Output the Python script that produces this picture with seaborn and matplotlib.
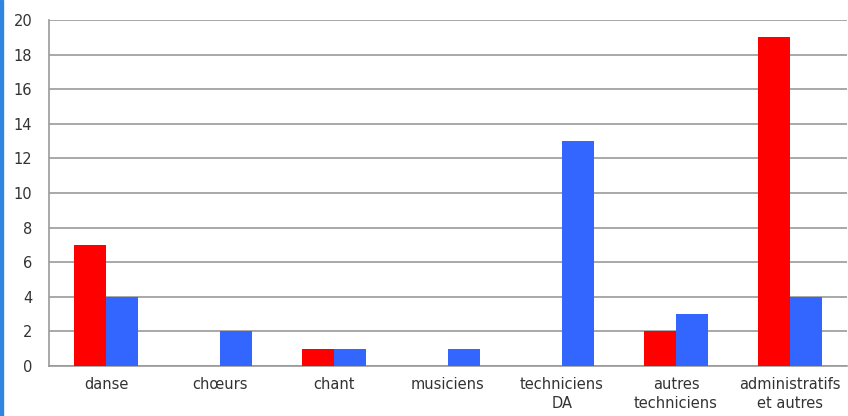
import matplotlib
matplotlib.use("Agg")
import matplotlib.pyplot as plt
import seaborn as sns
import pandas as pd
from matplotlib.patches import Rectangle

categories = ["danse", "chœurs", "chant", "musiciens", "techniciens\nDA",
              "autres\ntechniciens", "administratifs\net autres"]
series_names = ["A", "B"]
red_values = [7, 0, 1, 0, 0, 2, 19]
blue_values = [4, 2, 1, 1, 13, 3, 4]
y_ticks = [0, 2, 4, 6, 8, 10, 12, 14, 16, 18, 20]

df = pd.DataFrame({
    "cat": categories * 2,
    "serie": [series_names[0]] * len(categories) + [series_names[1]] * len(categories),
    "val": red_values + blue_values,
})

sns.set_style("white")
plt.rcParams['font.family'] = ['DejaVu Sans']

fig = plt.figure(figsize=(8.48, 4.16), dpi=100)
ax = fig.add_axes([49/848, 50/416, 798/848, 346/416])
sns.barplot(data=df, x="cat", y="val", hue="serie", order=categories,
            palette=["#ff0000", "#3366ff"], width=0.56, saturation=1,
            edgecolor="none", ax=ax, legend=False, zorder=3)
ax.set_ylim(0, 20)
ax.set_xlim(-0.5, len(categories) - 0.5)
ax.set_yticks(y_ticks)
ax.set_yticklabels([str(t) for t in y_ticks], fontsize=10.5, color="#333333")
ax.set_xlabel("")
ax.set_ylabel("")
ax.tick_params(axis="x", labelsize=10.5, colors="#333333", length=0, pad=8)
ax.tick_params(axis="y", length=0, pad=12)
for lab in ax.get_xticklabels():
    lab.set_linespacing(1.35)
ax.yaxis.grid(True, color="#999999", linewidth=1.2, zorder=0)
ax.set_axisbelow(True)
for s in ["top", "right"]:
    ax.spines[s].set_visible(False)
ax.spines["left"].set_color("#999999")
ax.spines["bottom"].set_color("#999999")
ax.spines["left"].set_linewidth(1.2)
ax.spines["bottom"].set_linewidth(1.2)

fig.patches.append(Rectangle((0, 0), 3/848, 1, transform=fig.transFigure,
                             color="#2f86e0", zorder=10))
fig.savefig("out.png", dpi=100)
